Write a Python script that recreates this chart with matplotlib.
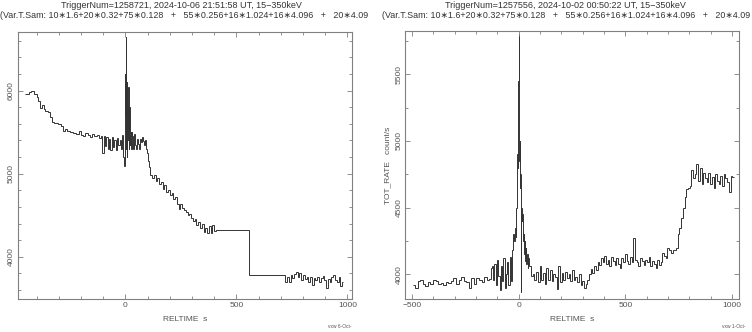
import numpy as np
import matplotlib
matplotlib.use("Agg")
import matplotlib.pyplot as plt
from matplotlib.ticker import MultipleLocator

plt.rcParams['font.family'] = ['Liberation Sans', 'DejaVu Sans']

# ---- left light curve (bin start, rate) ----
left_t = [-452, -436, -424, -412, -400, -392, -384, -376, -368, -360, -350, -340, -332, -320,
          -304, -290, -282, -272, -262, -250, -236, -222, -210, -200, -190, -180, -170, -160,
          -150, -140, -130, -120, -112,
          -104, -98, -92, -86, -80, -74, -68, -62, -56, -50, -44,
          -38, -32, -26, -20, -14, -9, -5, -3,
          -2, -1, 0, 1, 2, 3, 4, 5, 6, 7, 8, 9, 10, 11, 12, 13, 14, 15, 16, 17, 18, 19, 20,
          22, 24, 26, 28, 30, 32, 36, 40, 44, 48, 52, 56, 60, 64, 68, 72, 76, 80, 84, 88, 92,
          96, 100, 104, 108,
          112, 120, 128, 136, 144, 152, 160, 168, 176, 184, 192, 200, 208, 216, 224, 232, 240,
          248, 256, 264, 272, 280, 288, 296, 304, 312, 320, 328, 336, 344, 352, 360, 368, 376,
          384, 392, 400, 408, 558,
          720, 728, 736, 744, 752, 760, 768, 776, 784, 792, 800, 808, 816, 824, 832, 840, 848,
          856, 864, 872, 880, 888, 896, 904, 912, 920, 928, 936, 944, 952, 960, 968, 976]
left_rate = [5960, 5990, 6000, 5960, 5930, 5870, 5790, 5830, 5780, 5760, 5740, 5680, 5620, 5610,
             5600, 5570, 5520, 5540, 5510, 5500, 5490, 5480, 5510, 5470, 5460, 5490, 5470, 5440,
             5480, 5450, 5470, 5430, 5460,
             5250, 5460, 5330, 5440, 5300, 5420, 5290, 5440, 5320, 5400, 5280,
             5430, 5340, 5410, 5300, 5470, 5200, 5090, 5600,
             5400, 6200, 5700, 6650, 5500, 6400, 5300, 5900, 5600, 6100, 5200, 5800, 5400, 5900,
             5500, 5700, 6050, 5300, 5650, 5400, 5800, 5350, 5600,
             5450, 5500, 5300, 5500, 5380, 5450, 5300, 5480, 5350, 5300, 5420, 5360, 5300, 5330,
             5420, 5380, 5440, 5390, 5350, 5410, 5300, 5250, 5200, 5150, 5080,
             4990, 4950, 4990, 4910, 4950, 4870, 4900, 4820, 4860, 4780, 4800, 4740, 4770, 4700,
             4720, 4640, 4570, 4640, 4590, 4560, 4540, 4500, 4520, 4470, 4430, 4450, 4380, 4420,
             4340, 4400, 4300, 4350, 4280, 4370, 4290, 4380, 4310, 4320, 3775,
             3700, 3760, 3700, 3780, 3740, 3790, 3820, 3760, 3800, 3720, 3780, 3730, 3760, 3700,
             3750, 3660, 3740, 3720, 3760, 3700, 3740, 3770, 3720, 3620, 3730, 3700, 3760, 3780,
             3720, 3690, 3760, 3650, 3700]
left_end = 982

# ---- right light curve (bin start, rate) ----
right_t = [-498, -486, -474, -462, -450, -438, -426, -414, -402, -390, -378, -366, -354, -342,
           -330, -318, -306, -294, -282, -270, -258, -246, -234, -222, -210, -198, -186, -174,
           -162, -150, -138, -132, -126, -120, -114, -108, -102, -96, -90, -84, -78, -72, -66,
           -60, -54, -48, -42, -36, -30, -26, -22, -18, -14, -12, -10, -8, -6, -4, -2, -1, 0,
           1, 2, 3, 4, 5, 6, 7, 8, 9, 10, 11, 12, 14, 16, 18, 20, 22, 24, 26, 28, 30, 32, 34,
           38, 42, 46, 50, 58,
           66, 74, 82, 90, 98, 106, 114, 122, 130, 138, 146, 154, 162, 170, 178, 186, 194, 202,
           210, 218, 226, 234, 242, 250, 258, 266, 274, 282, 290, 298, 306, 314, 322, 330, 338,
           346, 354, 362, 370, 378, 386, 394, 402, 410, 418, 426, 434, 442, 450, 458, 466, 474,
           482, 490, 498, 506, 514, 522, 530, 538, 546, 554, 562, 570, 578, 586, 594, 602, 610,
           618, 626, 634, 642, 650, 658, 666, 674, 682, 690, 698, 706, 714, 722, 738, 746, 754,
           762, 770, 778, 786, 794, 802, 810, 818, 826, 834, 842, 850, 858, 866, 874, 882, 890,
           898, 906, 914, 922, 930, 938, 946, 954, 962, 970, 978, 986, 994, 1002]
right_rate = [3920, 3900, 3950, 3960, 3930, 3910, 3940, 3930, 3960, 3950, 3925, 3935, 3920, 3945,
              3935, 3950, 3970, 3930, 3960, 3980, 3950, 3940, 3900, 3970, 3930, 3975, 3960, 3940,
              3980, 3955, 3965, 4050, 4060, 3960, 4080, 3920, 4110, 3990, 3880, 4060, 3950, 4120,
              3900, 4000, 4090, 3920, 4130, 3950, 4180, 4300, 4250, 4350, 4280, 4500, 4650, 4600,
              4900, 4800, 5100, 5450, 5800,
              5000, 5250, 4850, 5000, 4800, 4900, 4650, 4750, 4550, 4650, 3870, 4500, 4400, 4450,
              4300, 4380, 4250, 4300, 4150, 4250, 4100, 4200, 4080, 4150, 4050, 4120, 4060, 3990,
              4000, 3960, 4020, 3940, 4060, 3960, 4010, 3930, 4050, 3960, 4030, 3950, 4000,
              3980, 3890, 4060, 3940, 4010, 3960, 4020, 3970, 4000, 3950, 4030, 3960, 3980, 3940,
              4000, 3920, 3950, 3900, 3930, 3960, 4000, 4040, 4010, 4060, 4030, 4090, 4070, 4120,
              4090, 4140, 4080, 4110, 4060, 4130, 4100, 4070, 4120, 4080, 4050, 4120, 4090, 4150,
              4100, 4080, 4130, 4090, 4270, 4110, 4090, 4060, 4120, 4100, 4070, 4110, 4090, 4130,
              4060, 4100, 4080, 4050, 4110, 4070, 4090, 4160, 4140, 4120, 4200, 4180, 4160, 4180,
              4200, 4300, 4350, 4420, 4500, 4580, 4640, 4650, 4660, 4780, 4720, 4750, 4830, 4700,
              4800, 4680, 4760, 4720, 4690, 4760, 4680, 4730, 4650, 4750, 4700, 4680, 4740, 4660,
              4750, 4720, 4690, 4620, 4740, 4730]
right_end = 1008

line_col = '#333333'
frame_col = '#808080'
text_col = '#555555'

fig = plt.figure(figsize=(7.52, 3.32), dpi=100)


def setup(ax, xlim, ylim, ymaj, ymin):
    ax.set_xlim(*xlim)
    ax.set_ylim(*ylim)
    ax.xaxis.set_major_locator(MultipleLocator(500))
    ax.xaxis.set_minor_locator(MultipleLocator(100))
    ax.yaxis.set_major_locator(MultipleLocator(ymaj))
    ax.yaxis.set_minor_locator(MultipleLocator(ymin))
    ax.tick_params(which='both', direction='in', top=True, right=True, color=frame_col,
                   labelcolor=text_col, labelsize=6, width=0.6)
    ax.tick_params(which='major', length=3.6, pad=2)
    ax.tick_params(which='minor', length=1.9)
    for s in ax.spines.values():
        s.set_color(frame_col)
        s.set_linewidth(0.8)
    for lab in ax.get_yticklabels():
        lab.set_rotation(90)
        lab.set_va('center')
    ax.set_xlabel("RELTIME  s", fontsize=6, color=text_col, labelpad=5)


ax1 = fig.add_axes([17.7 / 752, 1 - 299.3 / 332, 334.6 / 752, 267.3 / 332])
ax1.stairs(left_rate, left_t + [left_end], color=line_col, lw=0.7, baseline=None)
setup(ax1, (-485, 1022), (3487, 6707), 1000, 200)

ax2 = fig.add_axes([405.3 / 752, 1 - 299.3 / 332, 334 / 752, 268.6 / 332])
ax2.stairs(right_rate, right_t + [right_end], color=line_col, lw=0.7, baseline=None)
setup(ax2, (-532, 1035), (3812, 5827), 500, 250)
ax2.set_ylabel("TOT_RATE   count/s", fontsize=6, color=text_col, labelpad=3)

sub = "(Var.T.Sam: 10\u22171.6+20\u22170.32+75\u22170.128   +   55\u22170.256+16\u22171.024+16\u22174.096   +   20\u22174.09"
fig.text(181 / 752, 1 - 6 / 332, "TriggerNum=1258721, 2024-10-06 21:51:58 UT, 15\u2212350keV",
         ha='center', va='center', fontsize=6.5, color='#333333')
fig.text(184 / 752, 1 - 16 / 332, sub, ha='center', va='center', fontsize=6.4, color='#333333')
fig.text(565 / 752, 1 - 6 / 332, "TriggerNum=1257556, 2024-10-02 00:50:22 UT, 15\u2212350keV",
         ha='center', va='center', fontsize=6.5, color='#333333')
fig.text(566 / 752, 1 - 16 / 332, sub, ha='center', va='center', fontsize=6.4, color='#333333')

fig.text(352 / 752, 1 - 327 / 332, "vxw 6-Oct-", ha='right', va='center', fontsize=3.5, color=text_col)
fig.text(746 / 752, 1 - 327 / 332, "vxw 1-Oct-", ha='right', va='center', fontsize=3.5, color=text_col)

fig.savefig("out.png", dpi=100)
